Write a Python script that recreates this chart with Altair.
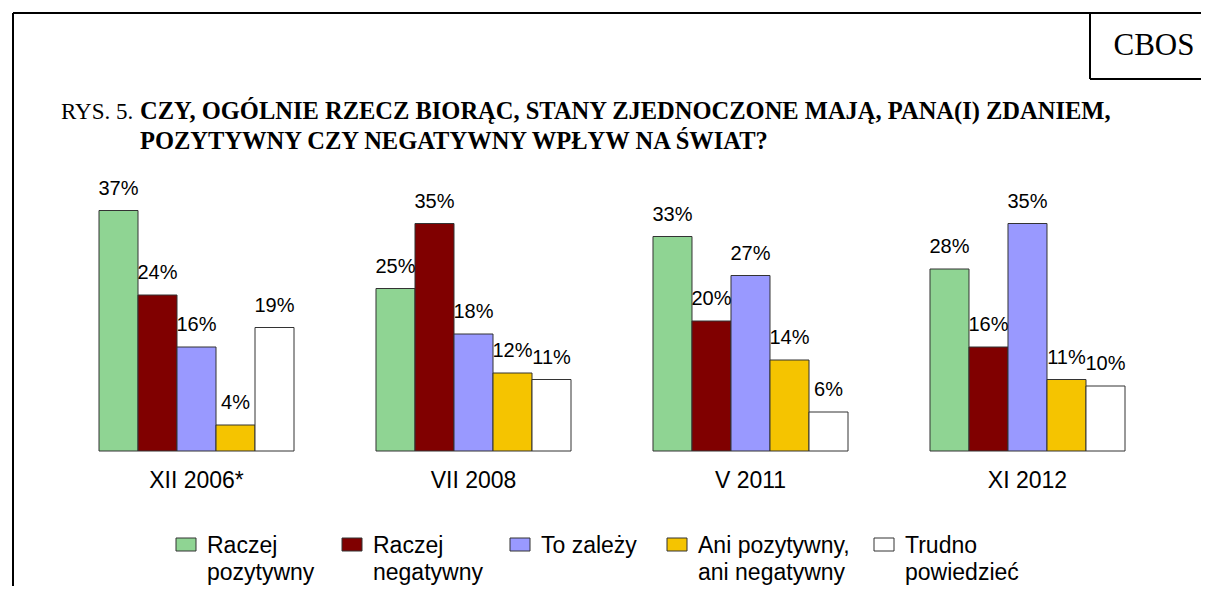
import altair as alt
import pandas as pd

periods = ["XII 2006*", "VII 2008", "V 2011", "XI 2012"]
series = ["Raczej pozytywny", "Raczej negatywny", "To zależy",
          "Ani pozytywny, ani negatywny", "Trudno powiedzieć"]
legend_lines = [["Raczej", "pozytywny"], ["Raczej", "negatywny"], ["To zależy"],
                ["Ani pozytywny,", "ani negatywny"], ["Trudno", "powiedzieć"]]
v_pozytywny = [37, 25, 33, 28]
v_negatywny = [24, 35, 20, 16]
v_zalezy = [16, 18, 27, 35]
v_ani = [4, 12, 14, 11]
v_trudno = [19, 11, 6, 10]
colors = ["#8FD493", "#800000", "#9999FF", "#F5C400", "#FFFFFF"]

title_prefix = "RYS. 5."
title_lines = ["CZY, OGÓLNIE RZECZ BIORĄC, STANY ZJEDNOCZONE MAJĄ, PANA(I) ZDANIEM,",
               "POZYTYWNY CZY NEGATYWNY WPŁYW NA ŚWIAT?"]
badge = "CBOS"

all_vals = [v_pozytywny, v_negatywny, v_zalezy, v_ani, v_trudno]
rows = []
for s, vals in zip(series, all_vals):
    for p, v in zip(periods, vals):
        rows.append({"period": p, "series": s, "value": v, "label": f"{v}%"})
df = pd.DataFrame(rows)

SANS = "Liberation Sans"
SERIF = "Liberation Serif"

base = alt.Chart(df).encode(
    x=alt.X("period:N", sort=periods,
            scale=alt.Scale(paddingInner=0.296, paddingOuter=0),
            axis=alt.Axis(title=None, labelAngle=0, domain=False, ticks=False,
                          labelPadding=18, labelFontSize=23, labelFont=SANS,
                          labelColor="black")),
    xOffset=alt.XOffset("series:N", sort=series,
                        scale=alt.Scale(paddingInner=0, paddingOuter=0)),
    y=alt.Y("value:Q", scale=alt.Scale(domain=[0, 40]), axis=None),
)

bars = base.mark_bar(stroke="#333333", strokeWidth=1).encode(
    color=alt.Color("series:N", sort=series,
                    scale=alt.Scale(domain=series, range=colors), legend=None)
)
labels = base.mark_text(dy=-12, baseline="bottom", fontSize=20, font=SANS,
                        color="black").encode(text="label:N")

one = pd.DataFrame({"k": [0]})
layers = [bars, labels]

def rule(x1, y1, x2, y2):
    return alt.Chart(one).mark_rule(color="black", strokeWidth=2).encode(
        x=alt.value(x1), y=alt.value(y1), x2=alt.value(x2), y2=alt.value(y2))

# frame (chart coords = page coords minus (99, 191))
layers += [
    rule(-86, -178, 1110, -178),
    rule(-86, -178, -86, 412),
    rule(991, -178, 991, -112),
    rule(991, -112, 1110, -112),
]
layers.append(alt.Chart(one).mark_text(text=badge, font=SERIF, fontSize=31,
                                       align="center", baseline="alphabetic",
                                       color="black")
              .encode(x=alt.value(1055), y=alt.value(-136)))
layers.append(alt.Chart(one).mark_text(text=title_prefix, font=SERIF, fontSize=23,
                                       align="left", baseline="alphabetic",
                                       color="black")
              .encode(x=alt.value(-38), y=alt.value(-72)))
layers.append(alt.Chart(one).mark_text(text=title_lines, font=SERIF, fontSize=24.5,
                                       fontWeight="bold", lineHeight=30,
                                       align="left", baseline="alphabetic",
                                       color="black")
              .encode(x=alt.value(41), y=alt.value(-72)))

# legend
swatch_x = [77, 243, 411, 568, 775]
for sx, col, lines in zip(swatch_x, colors, legend_lines):
    layers.append(alt.Chart(one).mark_rect(fill=col, stroke="#333333", strokeWidth=1)
                  .encode(x=alt.value(sx), x2=alt.value(sx + 20),
                          y=alt.value(347), y2=alt.value(360)))
    layers.append(alt.Chart(one).mark_text(text=lines, font=SANS, fontSize=23,
                                           lineHeight=27, align="left",
                                           baseline="alphabetic", color="black")
                  .encode(x=alt.value(sx + 31), y=alt.value(362)))

chart = alt.layer(*layers).properties(
    width=1026, height=260,
    autosize=alt.AutoSizeParams(type="none"),
    padding={"left": 91, "right": 76, "top": 183, "bottom": 135},
    background="white",
).configure_view(stroke=None)

chart.save("out.html", embed_options={"renderer": "svg", "actions": False})
